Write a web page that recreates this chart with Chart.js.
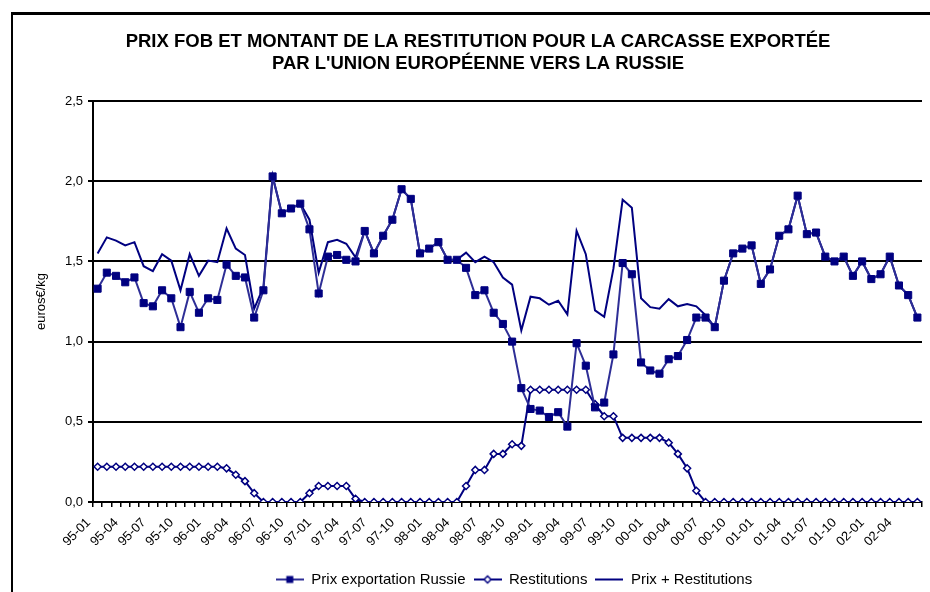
<!DOCTYPE html>
<html>
<head>
<meta charset="utf-8">
<script src="https://cdn.jsdelivr.net/npm/chart.js@4.4.1/dist/chart.umd.min.js"></script>
<style>
  body { margin: 0; background: #fff; }
  #frame { position: absolute; left: 11px; top: 12px; width: 940px; height: 600px;
           border-left: 2.5px solid #000; border-top: 3px solid #000; }
  #wrap { position: absolute; left: 0; top: 0; width: 930px; height: 592px; }
</style>
</head>
<body>
<div id="frame"></div>
<div id="wrap"><canvas id="chart"></canvas></div>
<script>
// months 95-01 .. 02-06
const months = [
    '95-01','95-02','95-03','95-04','95-05','95-06','95-07','95-08','95-09','95-10','95-11','95-12',
    '96-01','96-02','96-03','96-04','96-05','96-06','96-07','96-08','96-09','96-10','96-11','96-12',
    '97-01','97-02','97-03','97-04','97-05','97-06','97-07','97-08','97-09','97-10','97-11','97-12',
    '98-01','98-02','98-03','98-04','98-05','98-06','98-07','98-08','98-09','98-10','98-11','98-12',
    '99-01','99-02','99-03','99-04','99-05','99-06','99-07','99-08','99-09','99-10','99-11','99-12',
    '00-01','00-02','00-03','00-04','00-05','00-06','00-07','00-08','00-09','00-10','00-11','00-12',
    '01-01','01-02','01-03','01-04','01-05','01-06','01-07','01-08','01-09','01-10','01-11','01-12',
    '02-01','02-02','02-03','02-04','02-05','02-06'
];

const prixExport = [
    1.33, 1.43, 1.41, 1.37, 1.40, 1.24, 1.22, 1.32, 1.27, 1.09,
    1.31, 1.18, 1.27, 1.26, 1.48, 1.41, 1.40, 1.15, 1.32, 2.03,
    1.80, 1.83, 1.86, 1.70, 1.30, 1.53, 1.54, 1.51, 1.50, 1.69,
    1.55, 1.66, 1.76, 1.95, 1.89, 1.55, 1.58, 1.62, 1.51, 1.51,
    1.46, 1.29, 1.32, 1.18, 1.11, 1.00, 0.71, 0.58, 0.57, 0.53,
    0.56, 0.47, 0.99, 0.85, 0.59, 0.62, 0.92, 1.49, 1.42, 0.87,
    0.82, 0.80, 0.89, 0.91, 1.01, 1.15, 1.15, 1.09, 1.38, 1.55,
    1.58, 1.60, 1.36, 1.45, 1.66, 1.70, 1.91, 1.67, 1.68, 1.53,
    1.50, 1.53, 1.41, 1.50, 1.39, 1.42, 1.53, 1.35, 1.29, 1.15
];

const restitutions = [
    0.22, 0.22, 0.22, 0.22, 0.22, 0.22, 0.22, 0.22, 0.22, 0.22,
    0.22, 0.22, 0.22, 0.22, 0.21, 0.17, 0.13, 0.055, 0, 0,
    0, 0, 0, 0.055, 0.10, 0.10, 0.10, 0.10, 0.02, 0,
    0, 0, 0, 0, 0, 0, 0, 0, 0, 0,
    0.10, 0.20, 0.20, 0.30, 0.30, 0.36, 0.35, 0.70, 0.70, 0.70,
    0.70, 0.70, 0.70, 0.70, 0.61, 0.535, 0.535, 0.40, 0.40, 0.40,
    0.40, 0.40, 0.37, 0.30, 0.21, 0.07, 0, 0, 0, 0,
    0, 0, 0, 0, 0, 0, 0, 0, 0, 0,
    0, 0, 0, 0, 0, 0, 0, 0, 0, 0
];

const prixPlusRestit = [
    1.55, 1.65, 1.63, 1.60, 1.62, 1.47, 1.44, 1.545, 1.505, 1.32,
    1.545, 1.41, 1.505, 1.495, 1.705, 1.58, 1.54, 1.205, 1.34, 2.03,
    1.80, 1.83, 1.86, 1.76, 1.43, 1.62, 1.635, 1.61, 1.525, 1.69,
    1.55, 1.66, 1.76, 1.95, 1.89, 1.55, 1.58, 1.62, 1.51, 1.51,
    1.555, 1.495, 1.53, 1.495, 1.40, 1.355, 1.07, 1.28, 1.27, 1.23,
    1.255, 1.17, 1.69, 1.545, 1.195, 1.155, 1.455, 1.885, 1.835, 1.27,
    1.215, 1.205, 1.265, 1.22, 1.235, 1.22, 1.165, 1.09, 1.38, 1.55,
    1.58, 1.60, 1.36, 1.45, 1.66, 1.70, 1.91, 1.67, 1.68, 1.53,
    1.50, 1.53, 1.41, 1.50, 1.39, 1.42, 1.53, 1.35, 1.29, 1.15
];

const seriesNames = ['Prix exportation Russie', 'Restitutions', 'Prix + Restitutions'];
const yTicks = [0, 0.5, 1.0, 1.5, 2.0, 2.5];

const NAVY = '#000080';
const FONT = "'Liberation Sans', Arial, sans-serif";

// small legend symbols: line with marker
function legendIcon(kind) {
    const c = document.createElement('canvas');
    c.width = 28; c.height = 12;
    const g = c.getContext('2d');
    g.strokeStyle = kind === 'square' ? '#2e2e96' : NAVY;
    g.lineWidth = 2;
    g.beginPath(); g.moveTo(0, 6); g.lineTo(28, 6); g.stroke();
    if (kind === 'square') {
        g.fillStyle = NAVY;
        g.fillRect(10.5, 2.5, 7, 7);
    } else if (kind === 'diamond') {
        g.fillStyle = '#fff';
        g.strokeStyle = NAVY;
        g.lineWidth = 1.5;
        g.beginPath();
        g.moveTo(14, 2.5); g.lineTo(17.5, 6); g.lineTo(14, 9.5); g.lineTo(10.5, 6); g.closePath();
        g.fill(); g.stroke();
    }
    return c;
}
const icons = [legendIcon('square'), legendIcon('diamond'), legendIcon('line')];

// legend sits centred under the plot area, not under the whole canvas
const shiftLegend = {
    id: 'shiftLegend',
    afterLayout(chart) {
        const lg = chart.legend;
        if (!lg) return;
        lg.left += 36; lg.right += 36;
        lg.top += 5; lg.bottom += 5;
    }
};

new Chart(document.getElementById('chart'), {
    type: 'line',
    data: {
        labels: months,
        datasets: [{
            label: seriesNames[0],
            data: prixExport,
            borderColor: '#2e2e96',
            borderWidth: 2,
            pointStyle: 'rect',
            pointRadius: 5,
            pointBackgroundColor: NAVY,
            pointBorderColor: NAVY,
            pointBorderWidth: 1,
            tension: 0
        }, {
            label: seriesNames[1],
            data: restitutions,
            borderColor: NAVY,
            borderWidth: 2,
            pointStyle: 'rectRot',
            pointRadius: 3.5,
            pointBackgroundColor: '#fff',
            pointBorderColor: NAVY,
            pointBorderWidth: 1.5,
            tension: 0
        }, {
            label: seriesNames[2],
            data: prixPlusRestit,
            borderColor: NAVY,
            borderWidth: 2,
            pointRadius: 0,
            tension: 0
        }]
    },
    options: {
        responsive: true,
        maintainAspectRatio: false,
        animation: false,
        layout: { padding: { left: 34, right: 8, top: 0, bottom: 0 } },
        plugins: {
            title: {
                display: true,
                text: ['PRIX FOB ET MONTANT DE LA RESTITUTION POUR LA CARCASSE EXPORTÉE',
                       "PAR L'UNION EUROPÉENNE VERS LA RUSSIE"],
                color: '#000',
                font: { family: FONT, size: 18.5, weight: 'bold', lineHeight: 1.19 },
                padding: { top: 31, bottom: 26 }
            },
            legend: {
                position: 'bottom',
                labels: {
                    color: '#000',
                    font: { family: FONT, size: 15 },
                    usePointStyle: true,
                    pointStyleWidth: 28,
                    padding: 8,
                    generateLabels: () => seriesNames.map((name, i) => ({
                        text: name,
                        pointStyle: icons[i],
                        fillStyle: NAVY,
                        strokeStyle: NAVY,
                        lineWidth: 0,
                        datasetIndex: i
                    }))
                }
            },
            tooltip: { enabled: false }
        },
        scales: {
            x: {
                offset: true,
                grid: { offset: true, drawOnChartArea: false, drawTicks: true, tickLength: 5, color: '#000', lineWidth: 1.5 },
                border: { display: true, color: '#000', width: 2 },
                ticks: {
                    autoSkip: false,
                    maxRotation: 45,
                    minRotation: 45,
                    color: '#000',
                    padding: 8,
                    labelOffset: -9,
                    font: { family: FONT, size: 13 },
                    callback: (v, i) => (i % 3 === 0 ? months[i] : '')
                },
                afterFit: (scale) => {
                    scale.height = 57;
                    scale.paddingLeft = 0;
                    scale.paddingRight = 0;
                }
            },
            y: {
                min: 0,
                max: 2.5,
                afterBuildTicks: (scale) => { scale.ticks = yTicks.map(v => ({ value: v })); },
                grid: { color: '#000', lineWidth: 2, tickLength: 5, drawTicks: true },
                border: { display: true, color: '#000', width: 2 },
                ticks: {
                    color: '#000',
                    padding: 5,
                    font: { family: FONT, size: 13 },
                    callback: (v) => v.toFixed(1).replace('.', ',')
                },
                title: {
                    display: true,
                    text: 'euros€/kg',
                    color: '#000',
                    font: { family: FONT, size: 13 },
                    padding: { top: 0, bottom: 0 }
                },
                afterFit: (scale) => { scale.width = 59; }
            }
        }
    },
    plugins: [shiftLegend]
});
</script>
</body>
</html>
